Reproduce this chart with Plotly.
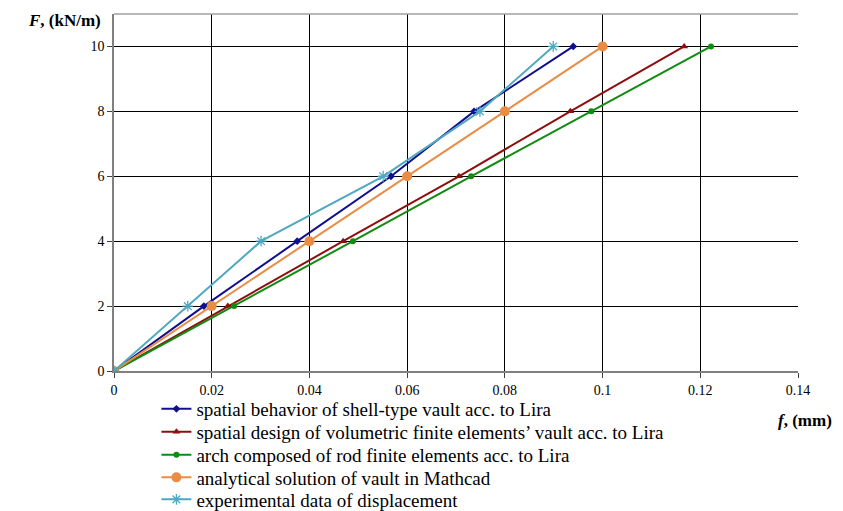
import plotly.graph_objects as go

F = [0, 2, 4, 6, 8, 10]
shell_lira = [0, 0.0184, 0.0375, 0.0567, 0.0737, 0.0940]
volumetric_lira = [0, 0.0233, 0.0469, 0.0706, 0.0934, 0.1167]
rod_lira = [0, 0.0246, 0.0489, 0.0731, 0.0977, 0.1222]
mathcad = [0, 0.02, 0.04, 0.06, 0.08, 0.10]
experiment = [0, 0.0151, 0.0301, 0.0551, 0.0749, 0.0899]

names = [
    "spatial behavior of shell-type vault acc. to Lira",
    "spatial design of volumetric finite elements’ vault acc. to Lira",
    "arch composed of rod finite elements acc. to Lira",
    "analytical solution of vault in Mathcad",
    "experimental data of displacement",
]
x_ticks = [0, 0.02, 0.04, 0.06, 0.08, 0.1, 0.12, 0.14]
x_tick_labels = ["0", "0.02", "0.04", "0.06", "0.08", "0.1", "0.12", "0.14"]
y_ticks = [0, 2, 4, 6, 8, 10]

series = [
    (shell_lira, "#10108F", dict(symbol="diamond", size=6)),
    (volumetric_lira, "#8E0E0E", dict(symbol="triangle-up", size=7)),
    (rod_lira, "#118A11", dict(symbol="circle", size=6)),
    (mathcad, "#E98D45", dict(symbol="circle", size=10)),
    (experiment, "#4FA8C0", dict(symbol="asterisk-open", size=9, line=dict(width=1.3, color="#4FA8C0"))),
]

font = "Liberation Serif, Times New Roman, serif"

# plot area in pixels: top 14, bottom 371
legend_row_px = [409, 432, 455, 477.5, 499.5]
legend_ids = ["legend", "legend2", "legend3", "legend4", "legend5"]

fig = go.Figure()
for (xs, color, mk), name, lid in zip(series, names, legend_ids):
    mk = dict(mk)
    mk["color"] = color
    fig.add_trace(go.Scatter(x=xs, y=F, mode="lines+markers", name=name, legend=lid,
                             line=dict(color=color, width=2), marker=mk))

layout_legends = {}
for lid, ypx in zip(legend_ids, legend_row_px):
    layout_legends[lid] = dict(
        x=0.062, y=(371 - ypx) / 357, xanchor="left", yanchor="middle",
        font=dict(family=font, size=19, color="black"),
        itemwidth=30, bgcolor="rgba(0,0,0,0)", borderwidth=0,
    )

fig.update_layout(
    width=843, height=511,
    margin=dict(l=114, r=45, t=14, b=140, autoexpand=False),
    paper_bgcolor="white", plot_bgcolor="white",
    font=dict(family=font, size=14, color="black"),
    showlegend=True,
    xaxis=dict(range=[0, 0.14], tickvals=x_ticks, ticktext=x_tick_labels,
               showgrid=True, gridcolor="black", gridwidth=1,
               showline=True, linecolor="#808080", linewidth=1.5, mirror=False,
               ticks="outside", ticklen=5, tickcolor="#404040",
               zeroline=False, tickfont=dict(size=14)),
    yaxis=dict(range=[0, 11], tickvals=y_ticks,
               showgrid=True, gridcolor="black", gridwidth=1,
               showline=True, linecolor="#808080", linewidth=1.5,
               ticks="outside", ticklen=5, tickcolor="#404040",
               zeroline=False, tickfont=dict(size=14)),
    shapes=[dict(type="line", xref="paper", yref="paper", x0=0, x1=1, y0=1, y1=1,
                 line=dict(color="#A0A0A0", width=1.5))],
    annotations=[
        dict(text="<b><i>F</i>, (kN/m)</b>", xref="paper", yref="paper",
             x=-0.128, y=0.983, xanchor="left", yanchor="middle", showarrow=False,
             font=dict(family=font, size=17)),
        dict(text="<b><i>f</i>, (mm)</b>", xref="paper", yref="paper",
             x=1.052, y=-0.14, xanchor="right", yanchor="middle", showarrow=False,
             font=dict(family=font, size=17)),
    ],
    **layout_legends,
)
fig.write_html("out.html", config={"displayModeBar": False},
               post_script="document.body.style.margin='0';document.body.style.padding='0';")
